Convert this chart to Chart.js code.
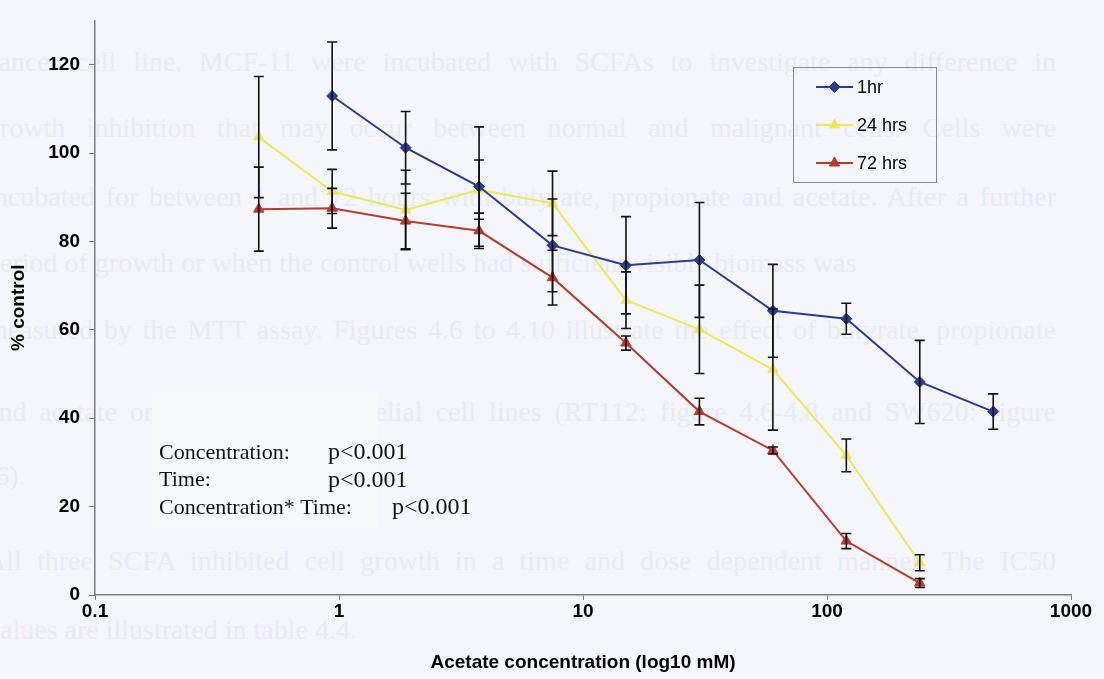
<!DOCTYPE html>
<html lang="en">
<head>
<meta charset="utf-8">
<title>Acetate concentration – % control</title>
<script src="https://cdn.jsdelivr.net/npm/chart.js@4.4.1/dist/chart.umd.min.js"></script>
<style>
  html, body { margin: 0; padding: 0; }
  body {
    width: 1104px; height: 679px; overflow: hidden; position: relative;
    background: #f5f6fb;
  }
  /* page text showing through from the other side of the sheet */
  .page-text { position: absolute; left: 0; top: 0; width: 1104px; height: 679px; }
  .page-text div {
    position: absolute; left: -14px; width: 1070px; white-space: nowrap;
    font: 28px "Liberation Serif", "DejaVu Serif", serif; color: #e9ebf3;
    transform: translateY(-50%);
  }
  .page-text div.full { white-space: normal; text-align: justify; text-align-last: justify; }
  .stats-box { position: absolute; left: 152px; top: 393px; width: 226px; height: 134px; background: #f7f8fc; }
  #chart { position: absolute; left: 0; top: 0; }
</style>
</head>
<body>
<div class="page-text" id="pageText"></div>
<div class="stats-box"></div>
<canvas id="chart" width="1104" height="679"></canvas>
<script>
// ─── Data ─────────────────────────────────────────────────────────────────────

const concentrations = [0.469, 0.9375, 1.875, 3.75, 7.5, 15, 30, 60, 120, 240, 480];

const hr1Values   = [null, 112.9, 101.2, 92.4, 79.1, 74.6, 75.8, 64.3, 62.5, 48.2, 41.5];
const hr1Errors   = [null, 12.2, 8.2, 13.5, 10.5, 11.0, 13.0, 10.5, 3.5, 9.4, 4.0];

const hr24Values  = [103.6, 91.3, 87.1, 91.7, 88.6, 66.7, 60.1, 51.0, 31.6, 7.3, null];
const hr24Errors  = [13.7, 5.0, 9.0, 6.7, 7.3, 6.4, 10.0, 13.7, 3.7, 1.8, null];

const hr72Values  = [87.3, 87.5, 84.6, 82.4, 71.8, 57.0, 41.5, 32.7, 12.2, 2.7, null];
const hr72Errors  = [9.5, 4.5, 6.3, 4.0, 6.2, 1.6, 3.0, 0.8, 1.7, 1.0, null];

const xTicks = [0.1, 1, 10, 100, 1000];
const yTicks = [0, 20, 40, 60, 80, 100, 120];

const statsLines = [
  ['Concentration:', 'p<0.001'],
  ['Time:', 'p<0.001'],
  ['Concentration* Time:', 'p<0.001'],
];

const pageLines = [
  ['cancer cell line. MCF-11 were incubated with SCFAs to investigate any difference in', 62, true],
  ['growth inhibition that may occur between normal and malignant cells. Cells were', 128, true],
  ['incubated for between 1 and 72 hours with butyrate, propionate and acetate. After a further', 197, true],
  ['period of growth or when the control wells had sufficient visible biomass was', 263, false],
  ['measured by the MTT assay. Figures 4.6 to 4.10 illustrate the effect of butyrate, propionate', 330, true],
  ['and acetate on transformed epithelial cell lines (RT112: figure 4.6-4.8 and SW620: figure', 412, true],
  ['(6).', 476, false],
  ['All three SCFA inhibited cell growth in a time and dose dependent manner. The IC50', 561, true],
  ['values are illustrated in table 4.4.', 630, false],
];

// ─── Page text ────────────────────────────────────────────────────────────────

document.getElementById('pageText').innerHTML = pageLines.map(([text, y, full]) =>
  `<div class="${full ? 'full' : ''}" style="top:${y}px">${text}</div>`).join('');

// ─── Helpers ──────────────────────────────────────────────────────────────────

const toPoints = (values, errors) => concentrations
  .map((c, i) => ({ x: c, y: values[i], err: errors[i] }))
  .filter(p => p.y !== null);

const AXIS_GREY = '#7c7c7c';
const SANS = '"Liberation Sans", Arial, sans-serif';
const SERIF = '"Liberation Serif", "Times New Roman", serif';

// ─── Plugins ──────────────────────────────────────────────────────────────────

const errorBars = {
  id: 'errorBars',
  afterDatasetsDraw(chart) {
    const { ctx, scales: { x, y } } = chart;
    ctx.save();
    ctx.strokeStyle = '#111';
    ctx.lineWidth = 1.6;
    chart.data.datasets.forEach(ds => {
      ds.data.forEach(p => {
        if (!p.err) return;
        const px = x.getPixelForValue(p.x);
        const top = y.getPixelForValue(p.y + p.err);
        const bot = y.getPixelForValue(p.y - p.err);
        ctx.beginPath();
        ctx.moveTo(px, top); ctx.lineTo(px, bot);
        ctx.moveTo(px - 5, top); ctx.lineTo(px + 5, top);
        ctx.moveTo(px - 5, bot); ctx.lineTo(px + 5, bot);
        ctx.stroke();
      });
    });
    ctx.restore();
  },
};

const boxLegend = {
  id: 'boxLegend',
  afterDraw(chart) {
    const { ctx } = chart;
    const left = 793.5, top = 67.5, w = 143, h = 115;
    ctx.save();
    ctx.strokeStyle = '#8a8a8a';
    ctx.lineWidth = 1;
    ctx.strokeRect(left, top, w, h);
    ctx.font = `18px ${SANS}`;
    ctx.textBaseline = 'middle';
    chart.data.datasets.forEach((ds, i) => {
      const cy = 87 + i * 38;
      ctx.strokeStyle = ds.borderColor;
      ctx.lineWidth = 2;
      ctx.beginPath();
      ctx.moveTo(816, cy); ctx.lineTo(853, cy);
      ctx.stroke();
      ctx.fillStyle = ds.backgroundColor;
      ctx.lineWidth = 1;
      Chart.helpers.drawPoint(ctx, { pointStyle: ds.pointStyle, radius: ds.pointRadius, rotation: 0, borderWidth: 1 }, 834.5, cy);
      ctx.fillStyle = '#000';
      ctx.fillText(ds.label, 857, cy + 1);
    });
    ctx.restore();
  },
};

const statsNote = {
  id: 'statsNote',
  afterDraw(chart) {
    const { ctx } = chart;
    ctx.save();
    ctx.fillStyle = '#111';
    ctx.textBaseline = 'middle';
    statsLines.forEach(([label, value], i) => {
      const cy = 453 + i * 27.5;
      ctx.font = `22px ${SERIF}`;
      ctx.fillText(label, 159, cy);
      ctx.font = `24px ${SERIF}`;
      ctx.fillText(value, i < 2 ? 328 : 392, cy);
    });
    ctx.restore();
  },
};

// ─── Chart ────────────────────────────────────────────────────────────────────

const lineSet = (label, values, errors, color, pointStyle, radius) => ({
  label,
  data: toPoints(values, errors),
  borderColor: color,
  backgroundColor: color,
  borderWidth: 2,
  pointStyle,
  pointRadius: radius,
  pointBorderWidth: 1,
  tension: 0,
});

new Chart(document.getElementById('chart'), {
  type: 'line',
  data: {
    datasets: [
      lineSet('1hr', hr1Values, hr1Errors, '#2b3c8e', 'rectRot', 5.5),
      lineSet('24 hrs', hr24Values, hr24Errors, '#ece65f', 'triangle', 6),
      lineSet('72 hrs', hr72Values, hr72Errors, '#b63a30', 'triangle', 6),
    ],
  },
  options: {
    responsive: false,
    animation: false,
    devicePixelRatio: 1,
    layout: { padding: { top: 7, right: 33, left: 0, bottom: 0 } },
    plugins: { legend: { display: false }, tooltip: { enabled: false } },
    scales: {
      x: {
        type: 'logarithmic',
        min: 0.1,
        max: 1000,
        afterBuildTicks: scale => { scale.ticks = xTicks.map(v => ({ value: v })); },
        afterFit: scale => { scale.height = 84; },
        ticks: {
          color: '#000',
          font: { family: SANS, size: 19, weight: 'bold' },
          padding: 0,
          maxRotation: 0,
          callback: v => String(v),
        },
        grid: { drawOnChartArea: false, color: AXIS_GREY, tickLength: 5 },
        border: { color: AXIS_GREY, width: 1.5 },
        title: {
          display: true,
          text: 'Acetate concentration (log10 mM)',
          color: '#000',
          font: { family: SANS, size: 19, weight: 'bold' },
          padding: { top: 4, bottom: 5 },
        },
      },
      y: {
        min: 0,
        max: 130,
        afterBuildTicks: scale => { scale.ticks = yTicks.map(v => ({ value: v })); },
        afterFit: scale => { scale.width = 95; },
        ticks: {
          color: '#000',
          font: { family: SANS, size: 19, weight: 'bold' },
          padding: 9,
        },
        grid: { drawOnChartArea: false, color: AXIS_GREY, tickLength: 6 },
        border: { color: AXIS_GREY, width: 1.5 },
        title: {
          display: true,
          text: '% control',
          color: '#000',
          font: { family: SANS, size: 19, weight: 'bold' },
          padding: { top: 7, bottom: 0 },
        },
      },
    },
  },
  plugins: [errorBars, boxLegend, statsNote],
});
</script>
</body>
</html>
